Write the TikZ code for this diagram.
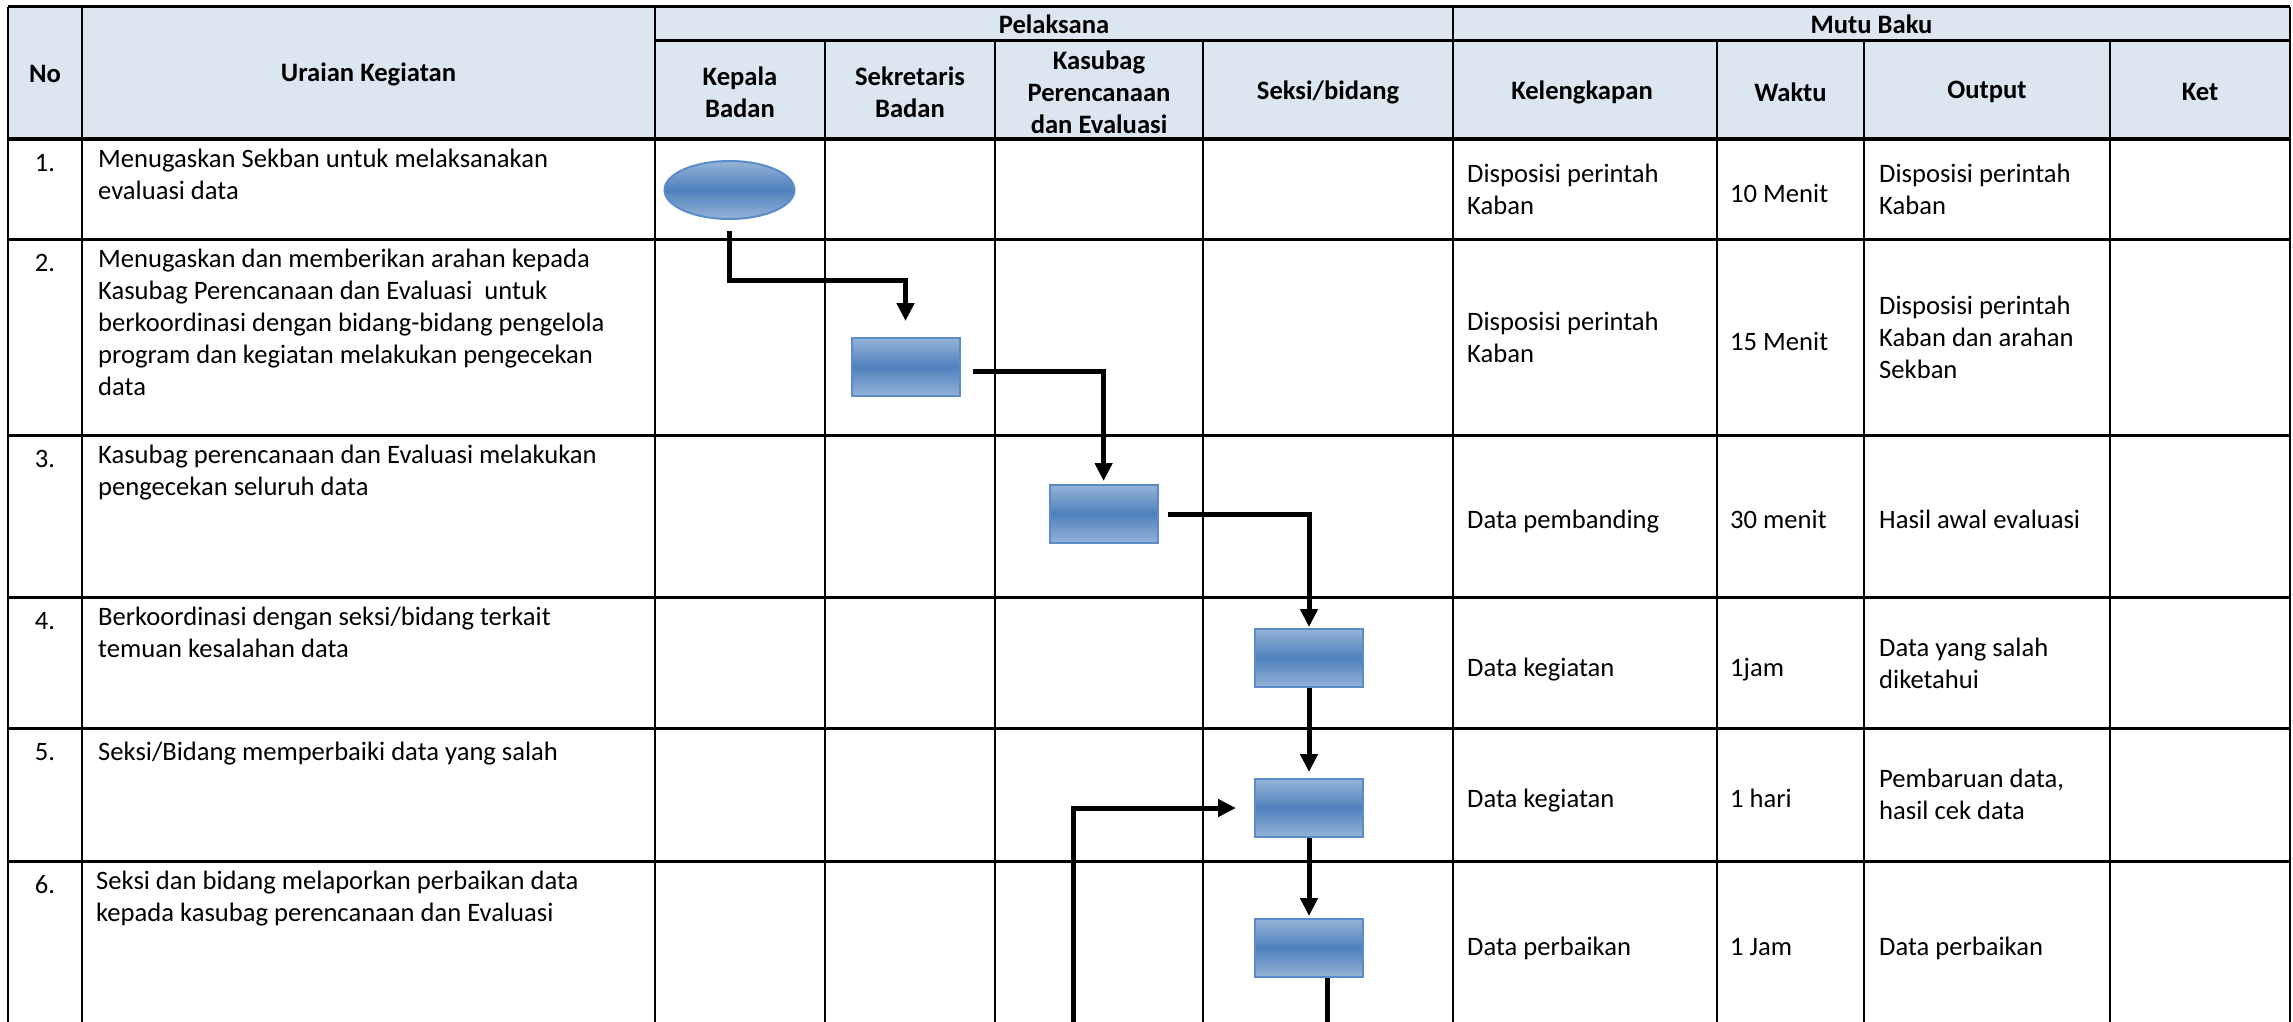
\documentclass[tikz,border=0pt]{standalone}
\usepackage{fontspec}
\setmainfont{Carlito}
\usetikzlibrary{arrows.meta,shapes.geometric,shadings}
\definecolor{hdrfill}{HTML}{DCE6F1}
\definecolor{boxlt}{HTML}{95B3D7}
\definecolor{boxdk}{HTML}{4F81BD}
\definecolor{boxedge}{HTML}{5B8BC8}
\newcommand\tsz{\fontsize{26.6pt}{32pt}\selectfont}
\begin{document}
\begin{tikzpicture}[x=1pt,y=-1pt,
  hline/.style={line width=3pt},
  vline/.style={line width=2pt},
  txt/.style={font=\tsz, inner sep=0pt, execute at begin node=\strut},
  lefttxt/.style={txt, anchor=north west, align=left},
  numtxt/.style={txt, anchor=north},
  hdrtxt/.style={font=\tsz\bfseries, inner sep=0pt, align=center, anchor=center},
  pbox/.style={rectangle, minimum width=108pt, minimum height=58pt, inner sep=0pt, draw=boxedge, line width=2pt, top color=boxlt, bottom color=boxlt, middle color=boxdk},
  pstart/.style={ellipse, minimum width=130pt, minimum height=58pt, inner sep=0pt, draw=boxedge, line width=2pt, top color=boxlt, bottom color=boxlt, middle color=boxdk},
  flow/.style={line width=5pt, -{Triangle[width=17pt,length=18pt]}},
  flowline/.style={line width=5pt}
]
\useasboundingbox (0,0) rectangle (2293,1022);
\fill[white] (0,0) rectangle (2293,1022);
\fill[hdrfill] (8,7) rectangle (2290,139);

% grid
\draw[hline] (8,7) -- (2290,7);
\draw[hline] (655,41) -- (2290,41);
\foreach \y in {139,239,435,597,728,861} \draw[hline] (8,\y) -- (2290,\y);
\foreach \x in {8,82,655,1453,2290} \draw[vline] (\x,7) -- (\x,1022);
\foreach \x in {825,995,1203,1717,1864,2110} \draw[vline] (\x,41) -- (\x,1022);

% header
\node[hdrtxt] (hno) at (45,74) {No};
\node[hdrtxt] (hur) at (368.5,74) {Uraian Kegiatan};
\node[hdrtxt] (hpel) at (1054,24) {Pelaksana};
\node[hdrtxt] (hmb) at (1871.5,24) {Mutu Baku};
\node[hdrtxt] (hkb) at (740,92) {Kepala\\Badan};
\node[hdrtxt] (hsb) at (910,92) {Sekretaris\\Badan};
\node[hdrtxt] (hkp) at (1099,92) {Kasubag\\Perencanaan\\dan Evaluasi};
\node[hdrtxt] (hsk) at (1328,92) {Seksi/bidang};
\node[hdrtxt] (hkl) at (1582,92) {Kelengkapan};
\node[hdrtxt] (hwk) at (1790.5,92) {Waktu};
\node[hdrtxt] (hou) at (1987,92) {Output};
\node[hdrtxt] (hkt) at (2200,92) {Ket};

% numbers
\node[numtxt] (n1) at (45,149) {1.};
\node[numtxt] (n2) at (45,249) {2.};
\node[numtxt] (n3) at (45,445) {3.};
\node[numtxt] (n4) at (45,607) {4.};
\node[numtxt] (n5) at (45,738) {5.};
\node[numtxt] (n6) at (45,871) {6.};

% uraian
\node[lefttxt] (u1) at (98,149) {Menugaskan Sekban untuk melaksanakan\\evaluasi data};
\node[lefttxt] (u2) at (98,249) {Menugaskan dan memberikan arahan kepada\\Kasubag Perencanaan dan Evaluasi\ \ untuk\\berkoordinasi dengan bidang-bidang pengelola\\program dan kegiatan melakukan pengecekan\\data};
\node[lefttxt] (u3) at (98,445) {Kasubag perencanaan dan Evaluasi melakukan\\pengecekan seluruh data};
\node[lefttxt] (u4) at (98,607) {Berkoordinasi dengan seksi/bidang terkait\\temuan kesalahan data};
\node[lefttxt] (u5) at (98,738) {Seksi/Bidang memperbaiki data yang salah};
\node[lefttxt] (u6) at (96,871) {Seksi dan bidang melaporkan perbaikan data\\kepada kasubag perencanaan dan Evaluasi};

% mutu baku
\node[lefttxt] (k1) at (1467,164) {Disposisi perintah\\Kaban};
\node[lefttxt] (w1) at (1730,180) {10 Menit};
\node[lefttxt] (p1) at (1879,164) {Disposisi perintah\\Kaban};
\node[lefttxt] (k2) at (1467,312) {Disposisi perintah\\Kaban};
\node[lefttxt] (w2) at (1730,328) {15 Menit};
\node[lefttxt] (p2) at (1879,296) {Disposisi perintah\\Kaban dan arahan\\Sekban};
\node[lefttxt] (k3) at (1467,506) {Data pembanding};
\node[lefttxt] (w3) at (1730,506) {30 menit};
\node[lefttxt] (p3) at (1879,506) {Hasil awal evaluasi};
\node[lefttxt] (k4) at (1467,654) {Data kegiatan};
\node[lefttxt] (w4) at (1730,654) {1jam};
\node[lefttxt] (p4) at (1879,638) {Data yang salah\\diketahui};
\node[lefttxt] (k5) at (1467,785) {Data kegiatan};
\node[lefttxt] (w5) at (1730,785) {1 hari};
\node[lefttxt] (p5) at (1879,769) {Pembaruan data,\\hasil cek data};
\node[lefttxt] (k6) at (1467,933) {Data perbaikan};
\node[lefttxt] (w6) at (1730,933) {1 Jam};
\node[lefttxt] (p6) at (1879,933) {Data perbaikan};

% flow shapes
\node[pstart] (e1) at (729.5,190) {};
\node[pbox] (b2) at (905.5,367) {};
\node[pbox] (b3) at (1103.6,514) {};
\node[pbox] (b4) at (1309,658) {};
\node[pbox] (b5) at (1309,808) {};
\node[pbox] (b6) at (1309,948) {};
\coordinate (out6) at (1327,1022);
\coordinate (fbin) at (1073,1022);

% connectors
\draw[flow, shorten <=11pt, shorten >=16pt] (e1.south) -- ++(0,60) -| (b2.north);
\draw[flow, shorten <=12pt, shorten >=3pt] ([yshift=-4pt]b2.east) -| (b3.north);
\draw[flow, shorten <=9pt, shorten >=1pt] (b3.east) -| (b4.north);
\draw[flow, shorten >=6pt] (b4.south) -- (b5.north);
\draw[flow, shorten >=2pt] (b5.south) -- (b6.north);
\draw[flowline] (b6.south -| out6) -- (out6);
\draw[flow, shorten >=18pt] (fbin) |- (b5.west);
\end{tikzpicture}
\end{document}
